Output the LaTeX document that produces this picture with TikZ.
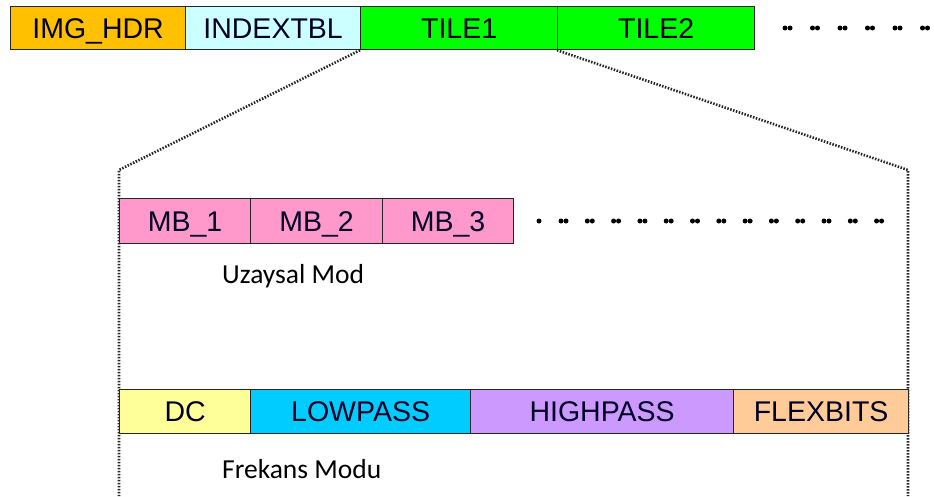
\documentclass[tikz,border=0pt]{standalone}
\usepackage{fontspec}
\setmainfont{Liberation Sans}
\newfontfamily\calfont{Carlito}
\definecolor{chdr}{HTML}{FFC000}
\definecolor{cidx}{HTML}{CCFFFF}
\definecolor{ctile}{HTML}{00FF00}
\definecolor{cmb}{HTML}{FF99CC}
\definecolor{cdc}{HTML}{FFFF99}
\definecolor{clow}{HTML}{00CCFF}
\definecolor{chigh}{HTML}{CC99FF}
\definecolor{cflex}{HTML}{FFCC99}
\tikzset{
  cell/.style={draw=black!85, line width=1.2pt, inner sep=0pt, anchor=north west,
    font=\fontsize{28.5}{30}\selectfont, text=black!85!blue,
    text height=20pt, text depth=0pt},
  zoomline/.style={line width=2.6pt, dash pattern=on 1.5pt off 1.5pt, black!85},
  caption/.style={font=\calfont\fontsize{27.5}{30}\selectfont, inner sep=0pt},
  dotmark/.style={fill=black, draw=none}
}
\begin{document}
\begin{tikzpicture}[x=1pt,y=-1pt]
\useasboundingbox (0,0) rectangle (934,496);
% top row
\node[cell, fill=chdr, minimum width=175pt, minimum height=43pt] (hdr) at (10,6) {IMG\_HDR};
\node[cell, fill=cidx, minimum width=175pt, minimum height=43pt] (idx) at (185,6) {INDEXTBL};
\node[cell, fill=ctile, minimum width=197pt, minimum height=43pt] (t1) at (360,6) {TILE1};
\node[cell, fill=ctile, minimum width=197pt, minimum height=43pt] (t2) at (557,6) {TILE2};
\foreach \i in {0,...,5}{
  \fill[dotmark] (785+\i*27.5,28) circle (2.5pt);
  \fill[dotmark] (790+\i*27.5,28) circle (2.5pt);
}
% zoom lines
\coordinate (lc) at (119,170);
\coordinate (rc) at (908,170);
\coordinate (lb) at (119,496);
\coordinate (rb) at (908,496);
\draw[zoomline] (t1.south west) -- (lc) -- (lb);
\draw[zoomline] (t2.south west) -- (rc) -- (rb);
% MB row
\node[cell, fill=cmb, minimum width=131pt, minimum height=45pt] (mb1) at (119,198) {MB\_1};
\node[cell, fill=cmb, minimum width=132pt, minimum height=45pt] (mb2) at (250,198) {MB\_2};
\node[cell, fill=cmb, minimum width=131pt, minimum height=45pt] (mb3) at (382,198) {MB\_3};
\fill[dotmark] (539,221) circle (2.5pt);
\foreach \i in {0,...,12}{
  \fill[dotmark] (561+\i*26.3,221) circle (2.5pt);
  \fill[dotmark] (566+\i*26.3,221) circle (2.5pt);
}
\node[caption, anchor=west] (uz) at (222,276) {Uzaysal Mod};
% bottom row
\node[cell, fill=cdc, minimum width=131pt, minimum height=44pt] (dc) at (119,389) {DC};
\node[cell, fill=clow, minimum width=220pt, minimum height=44pt] (low) at (250,389) {LOWPASS};
\node[cell, fill=chigh, minimum width=263pt, minimum height=44pt] (high) at (470,389) {HIGHPASS};
\node[cell, fill=cflex, minimum width=175pt, minimum height=44pt] (flex) at (733,389) {FLEXBITS};
\node[caption, anchor=west] (fr) at (222,469) {Frekans Modu};
\end{tikzpicture}
\end{document}
